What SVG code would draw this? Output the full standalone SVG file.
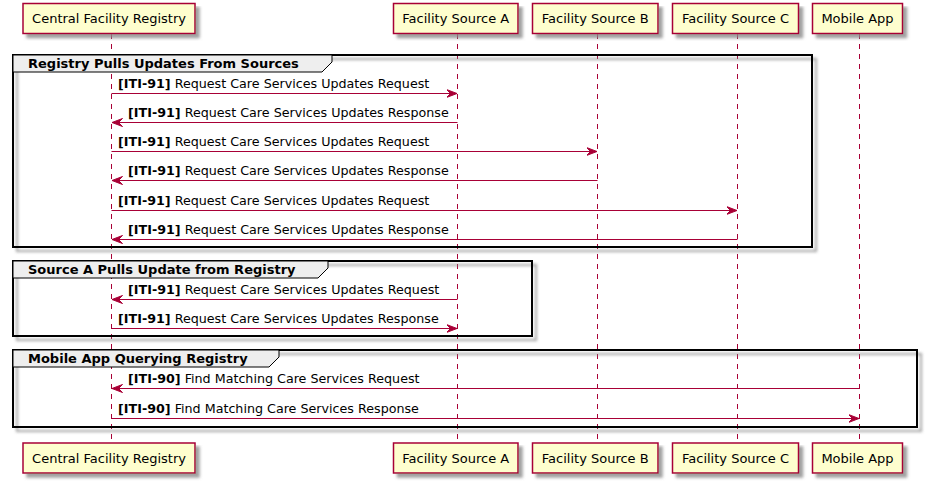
<svg xmlns="http://www.w3.org/2000/svg" width="926" height="482" viewBox="0 0 926 482">
<defs>
<filter id="sh" x="-5%" y="-5%" width="115%" height="130%">
<feGaussianBlur in="SourceAlpha" stdDeviation="1.7" result="b"/>
<feColorMatrix in="b" type="matrix" values="0 0 0 0 0.25  0 0 0 0 0.25  0 0 0 0 0.25  0 0 0 0.8 0" result="c"/>
<feOffset in="c" dx="4" dy="4" result="o"/>
<feMerge><feMergeNode in="o"/><feMergeNode in="SourceGraphic"/></feMerge>
</filter>
<marker id="ah" viewBox="0 0 11 9" refX="10.5" refY="4.5" markerWidth="11" markerHeight="9" markerUnits="userSpaceOnUse" orient="auto">
<polygon points="0,0.5 10.5,4.5 0,8.5 4,4.5" fill="#A80036" stroke="#A80036" stroke-width="1"/>
</marker>
</defs>
<style>
text{font-family:"DejaVu Sans","Liberation Sans",sans-serif;fill:#000000;}
.pbox{fill:#FEFECE;stroke:#A80036;stroke-width:1.5;}
.pt{font-size:13px;text-anchor:middle;}
.life{stroke:#A80036;stroke-width:1;stroke-dasharray:5,5;fill:none;}
.msg{stroke:#A80036;stroke-width:1;fill:none;marker-end:url(#ah);}
.mt{font-size:12.7px;}
.b{font-weight:bold;}
.frame{fill:none;stroke:#000000;stroke-width:2;}
.tab{fill:#EEEEEE;stroke:#000000;stroke-width:1;}
.gt{font-size:13px;font-weight:bold;}
</style>

<g id="lifelines">
<line class="life" x1="111.5" y1="34" x2="111.5" y2="442"/>
<line class="life" x1="457.5" y1="34" x2="457.5" y2="442"/>
<line class="life" x1="597.5" y1="34" x2="597.5" y2="442"/>
<line class="life" x1="737.5" y1="34" x2="737.5" y2="442"/>
<line class="life" x1="859.5" y1="34" x2="859.5" y2="442"/>
</g>

<g id="group-registry-pulls">
<rect class="frame" x="13" y="55" width="799" height="192" filter="url(#sh)"/>
<path class="tab" d="M13,55 L332,55 L332,62 L322,72 L13,72 Z"/>
<text class="gt" x="28" y="68">Registry Pulls Updates From Sources</text>
</g>
<g id="group-source-a-pulls">
<rect class="frame" x="13" y="261" width="519" height="75" filter="url(#sh)"/>
<path class="tab" d="M13,261 L328,261 L328,268 L318,278 L13,278 Z"/>
<text class="gt" x="28" y="274">Source A Pulls Update from Registry</text>
</g>
<g id="group-mobile-app">
<rect class="frame" x="13" y="350" width="904" height="77" filter="url(#sh)"/>
<path class="tab" d="M13,350 L279,350 L279,357 L269,367 L13,367 Z"/>
<text class="gt" x="28" y="363">Mobile App Querying Registry</text>
</g>

<g id="connectors">
<line class="msg" x1="111.5" y1="93.5" x2="457" y2="93.5"/>
<text class="mt" x="118" y="87.5"><tspan class="b">[ITI-91]</tspan> Request Care Services Updates Request</text>
<line class="msg" x1="457.5" y1="122.5" x2="112" y2="122.5"/>
<text class="mt" x="128" y="116.5"><tspan class="b">[ITI-91]</tspan> Request Care Services Updates Response</text>
<line class="msg" x1="111.5" y1="151.5" x2="597" y2="151.5"/>
<text class="mt" x="118" y="145.5"><tspan class="b">[ITI-91]</tspan> Request Care Services Updates Request</text>
<line class="msg" x1="597.5" y1="180.5" x2="112" y2="180.5"/>
<text class="mt" x="128" y="174.5"><tspan class="b">[ITI-91]</tspan> Request Care Services Updates Response</text>
<line class="msg" x1="111.5" y1="210.5" x2="737" y2="210.5"/>
<text class="mt" x="118" y="204.5"><tspan class="b">[ITI-91]</tspan> Request Care Services Updates Request</text>
<line class="msg" x1="737.5" y1="239.5" x2="112" y2="239.5"/>
<text class="mt" x="128" y="233.5"><tspan class="b">[ITI-91]</tspan> Request Care Services Updates Response</text>

<line class="msg" x1="457.5" y1="299.5" x2="112" y2="299.5"/>
<text class="mt" x="128" y="293.5"><tspan class="b">[ITI-91]</tspan> Request Care Services Updates Request</text>
<line class="msg" x1="111.5" y1="328.5" x2="457" y2="328.5"/>
<text class="mt" x="118" y="322.5"><tspan class="b">[ITI-91]</tspan> Request Care Services Updates Response</text>

<line class="msg" x1="859.5" y1="388.5" x2="112" y2="388.5"/>
<text class="mt" x="128" y="382.5"><tspan class="b">[ITI-90]</tspan> Find Matching Care Services Request</text>
<line class="msg" x1="111.5" y1="418.5" x2="859" y2="418.5"/>
<text class="mt" x="118" y="412.5"><tspan class="b">[ITI-90]</tspan> Find Matching Care Services Response</text>
</g>

<g id="p-central">
<rect class="pbox" x="23" y="3.5" width="172" height="30" filter="url(#sh)"/>
<text class="pt" x="109" y="23">Central Facility Registry</text>
<rect class="pbox" x="23" y="443" width="172" height="30" filter="url(#sh)"/>
<text class="pt" x="109" y="462.5">Central Facility Registry</text>
</g>
<g id="p-source-a">
<rect class="pbox" x="393.5" y="3.5" width="124.5" height="30" filter="url(#sh)"/>
<text class="pt" x="455.75" y="23">Facility Source A</text>
<rect class="pbox" x="393.5" y="443" width="124.5" height="30" filter="url(#sh)"/>
<text class="pt" x="455.75" y="462.5">Facility Source A</text>
</g>
<g id="p-source-b">
<rect class="pbox" x="532.5" y="3.5" width="125.5" height="30" filter="url(#sh)"/>
<text class="pt" x="595.25" y="23">Facility Source B</text>
<rect class="pbox" x="532.5" y="443" width="125.5" height="30" filter="url(#sh)"/>
<text class="pt" x="595.25" y="462.5">Facility Source B</text>
</g>
<g id="p-source-c">
<rect class="pbox" x="672.5" y="3.5" width="126" height="30" filter="url(#sh)"/>
<text class="pt" x="735.5" y="23">Facility Source C</text>
<rect class="pbox" x="672.5" y="443" width="126" height="30" filter="url(#sh)"/>
<text class="pt" x="735.5" y="462.5">Facility Source C</text>
</g>
<g id="p-mobile">
<rect class="pbox" x="812.5" y="3.5" width="90" height="30" filter="url(#sh)"/>
<text class="pt" x="857.5" y="23">Mobile App</text>
<rect class="pbox" x="812.5" y="443" width="90" height="30" filter="url(#sh)"/>
<text class="pt" x="857.5" y="462.5">Mobile App</text>
</g>
</svg>
